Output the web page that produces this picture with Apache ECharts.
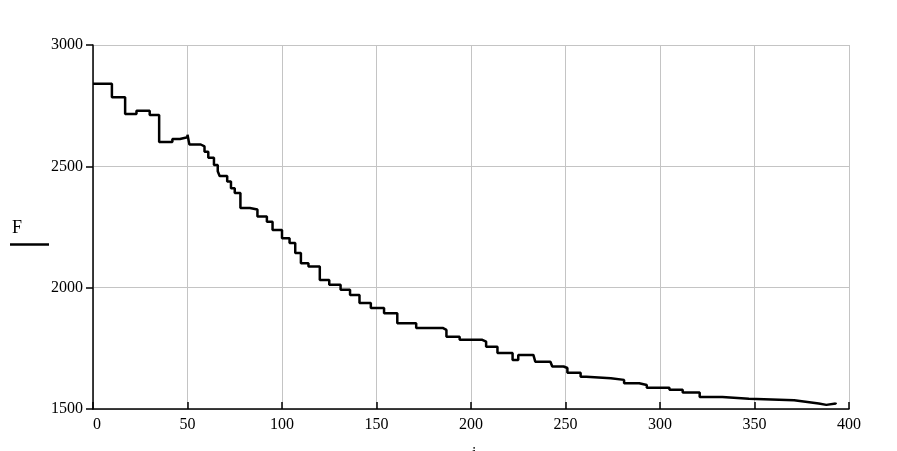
<!DOCTYPE html>
<html>
<head>
<meta charset="utf-8">
<script src="https://cdn.jsdelivr.net/npm/echarts@6/dist/echarts.min.js"></script>
<style>
  html, body { margin: 0; padding: 0; background: #fff; }
  #chart { width: 897px; height: 451px; }
</style>
</head>
<body>
<div id="chart"></div>
<script>
// step points: F holds its value from x until the next x
const xs = [0, 10, 17, 23, 30, 35, 42, 46, 50, 51, 57, 59, 61, 64, 66, 67, 71, 73, 75, 78,
  83, 87, 92, 95, 100, 104, 107, 110, 114, 120, 125, 131, 136, 141, 147, 154, 161, 171,
  185, 187, 194, 206, 208, 214, 222, 225, 233, 234, 242, 243, 249, 251, 258, 261, 274,
  281, 289, 293, 305, 312, 321, 333, 347, 371, 378, 384, 388, 393]
const fValues = [2840, 2785, 2716, 2729, 2712, 2600, 2613, 2620, 2630, 2590, 2582, 2560,
  2535, 2505, 2480, 2460, 2437, 2410, 2390, 2328, 2322, 2293, 2272, 2238, 2204, 2184,
  2143, 2101, 2087, 2032, 2012, 1991, 1970, 1937, 1916, 1895, 1853, 1834, 1826, 1798,
  1785, 1778, 1757, 1731, 1702, 1723, 1716, 1695, 1690, 1675, 1669, 1649, 1633, 1627,
  1620, 1606, 1599, 1588, 1579, 1568, 1549, 1542, 1536, 1529, 1523, 1517, 1523, 1526]
const xTicks = [0, 50, 100, 150, 200, 250, 300, 350, 400]
const yTicks = [1500, 2000, 2500, 3000]

const font = 'Liberation Serif'
const chart = echarts.init(document.getElementById('chart'))

chart.setOption({
  animation: false,
  grid: { left: 93, right: 48, top: 45, bottom: 42 },
  xAxis: {
    type: 'value',
    min: xTicks[0],
    max: xTicks[xTicks.length - 1],
    interval: 50,
    axisLine: { onZero: false, lineStyle: { color: '#000', width: 1.5 } },
    axisTick: { inside: true, length: 7, lineStyle: { color: '#000', width: 1.5 } },
    axisLabel: {
      color: '#000', fontFamily: font, fontSize: 16, margin: 8,
      alignMinLabel: 'left',
      formatter: v => String(v)
    },
    splitLine: { show: true, lineStyle: { color: '#c4c4c4', width: 1 } }
  },
  yAxis: {
    type: 'value',
    min: yTicks[0],
    max: yTicks[yTicks.length - 1],
    interval: 500,
    axisLine: { show: true, onZero: false, lineStyle: { color: '#000', width: 1.5 } },
    axisTick: { show: true, length: 7, lineStyle: { color: '#000', width: 1.5 } },
    axisLabel: {
      color: '#000', fontFamily: font, fontSize: 16, margin: 10,
      formatter: v => String(v)
    },
    splitLine: { show: true, lineStyle: { color: '#c4c4c4', width: 1 } }
  },
  series: [{
    type: 'line',
    step: 'end',
    showSymbol: false,
    lineStyle: { color: '#000', width: 2.5 },
    data: xs.map((x, i) => [x, fValues[i]])
  }],
  graphic: [
    { type: 'text', left: 12, top: 219,
      style: { text: 'F', font: '18px ' + font, fill: '#000' } },
    { type: 'line', shape: { x1: 10, y1: 244.5, x2: 49, y2: 244.5 },
      style: { stroke: '#000', lineWidth: 2.5 } },
    { type: 'text', left: 472, top: 446,
      style: { text: 'i', font: '16px ' + font, fill: '#000' } }
  ]
})
</script>
</body>
</html>
